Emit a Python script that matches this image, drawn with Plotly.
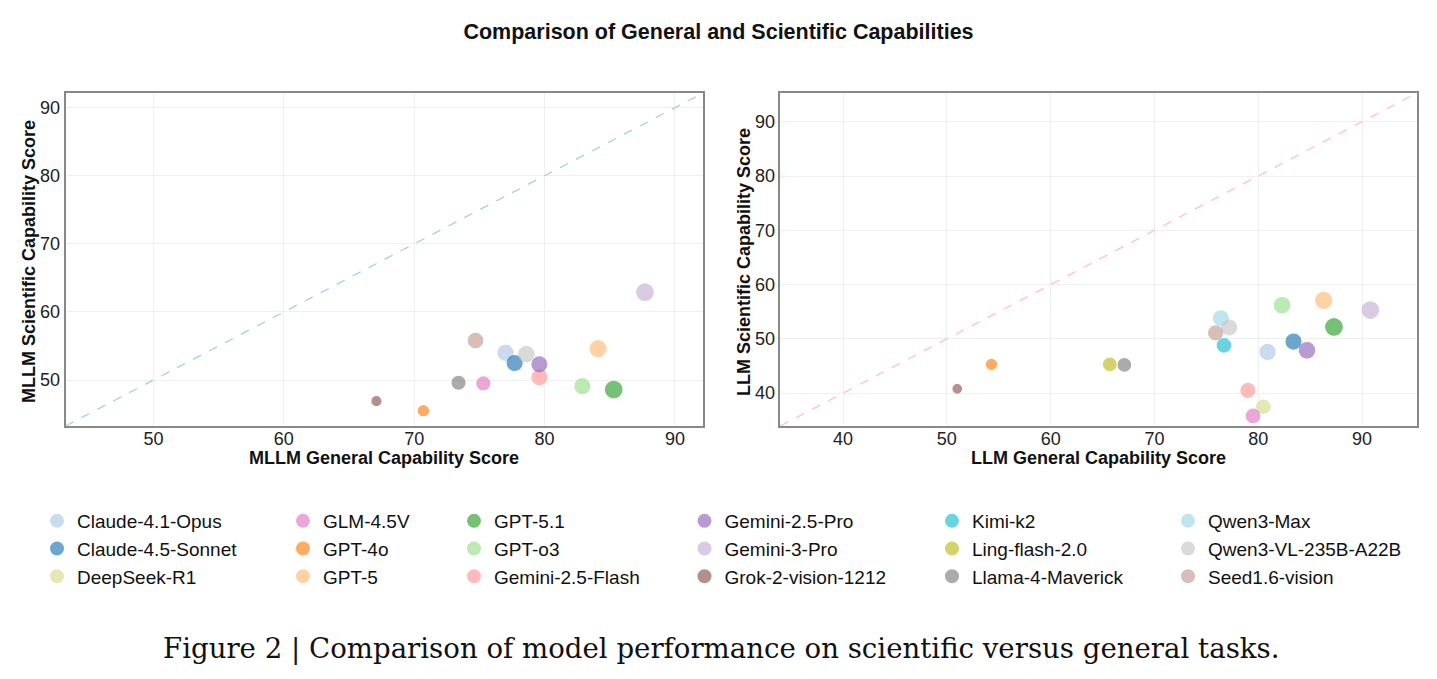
import plotly.graph_objects as go

# ---------------- data ----------------
models = ["Claude-4.1-Opus", "Claude-4.5-Sonnet", "DeepSeek-R1", "GLM-4.5V", "GPT-4o", "GPT-5",
          "GPT-5.1", "GPT-o3", "Gemini-2.5-Flash", "Gemini-2.5-Pro", "Gemini-3-Pro",
          "Grok-2-vision-1212", "Kimi-k2", "Ling-flash-2.0", "Llama-4-Maverick", "Qwen3-Max",
          "Qwen3-VL-235B-A22B", "Seed1.6-vision"]

# MLLM panel (None = not evaluated)
mllm_general = [77.0, 77.7, None, 75.3, 70.7, 84.1, 85.3, 82.9, 79.6, 79.6, 87.7,
                67.1, None, None, 73.4, None, 78.6, 74.7]
mllm_science = [54.0, 52.5, None, 49.5, 45.5, 54.6, 48.6, 49.1, 50.4, 52.3, 62.9,
                46.9, None, None, 49.6, None, 53.8, 55.8]
mllm_size = [15, 15, None, 13, 10, 16, 16.5, 15, 15, 15, 16.5, 9, None, None, 13, None, 15.5, 14.5]

# LLM panel
llm_general = [80.9, 83.4, 80.5, 79.5, 54.3, 86.3, 87.3, 82.3, 79.0, 84.7, 90.8,
               51.0, 76.7, 65.7, 67.1, 76.4, 77.2, 75.9]
llm_science = [47.6, 49.5, 37.5, 35.8, 45.3, 57.1, 52.2, 56.2, 40.5, 47.9, 55.3,
               40.8, 48.8, 45.3, 45.2, 53.8, 52.1, 51.1]
llm_size = [15, 15, 13.5, 13.5, 10, 16, 16.5, 15.5, 14, 15.5, 16.5, 8.5, 13.5, 12.5, 12.5, 15, 15, 14]

colors = ["#aec7e8", "#1f77b4", "#dbdb8d", "#e377c2", "#ff7f0e", "#ffbb78", "#2ca02c", "#98df8a",
          "#ff9896", "#9467bd", "#c5b0d5", "#8c564b", "#17becf", "#bcbd22", "#7f7f7f", "#9edae5",
          "#c7c7c7", "#c49c94"]

left_range = [43.25, 92.15]
right_range = [33.95, 95.3]

# ---------------- figure ----------------
fig = go.Figure()

FONT = "Liberation Sans, Arial, sans-serif"

# diagonal reference lines
fig.add_trace(go.Scatter(x=left_range, y=left_range, mode="lines", xaxis="x", yaxis="y",
                         line=dict(color="#9fd3ea", width=1.3, dash="dash"),
                         showlegend=False, hoverinfo="skip"))
fig.add_trace(go.Scatter(x=right_range, y=right_range, mode="lines", xaxis="x2", yaxis="y2",
                         line=dict(color="#ffbfcb", width=1.3, dash="dash"),
                         showlegend=False, hoverinfo="skip"))

legend_names = ["legend", "legend2", "legend3", "legend4", "legend5", "legend6"]

for i, m in enumerate(models):
    col = i // 3
    lg = legend_names[col]
    if mllm_general[i] is not None:
        fig.add_trace(go.Scatter(x=[mllm_general[i]], y=[mllm_science[i]], mode="markers",
                                 xaxis="x", yaxis="y", name=m, legendgroup=m, showlegend=False,
                                 marker=dict(size=mllm_size[i], color=colors[i], opacity=0.65,
                                             line=dict(color=colors[i], width=1.2))))
    fig.add_trace(go.Scatter(x=[llm_general[i]], y=[llm_science[i]], mode="markers",
                             xaxis="x2", yaxis="y2", name=m, legendgroup=m, showlegend=True,
                             legend=lg,
                             marker=dict(size=llm_size[i], color=colors[i], opacity=0.65,
                                         line=dict(color=colors[i], width=1.2))))

W, H = 1437, 679
y_top, y_bot = 93, 426
xl0, xl1 = 65.5, 703
xr0, xr1 = 780.3, 1417

axis_common = dict(showline=True, linecolor="#888888", linewidth=1.5, mirror=True,
                   showgrid=True, gridcolor="#efefef", gridwidth=1, zeroline=False,
                   ticks="", tickfont=dict(family=FONT, size=18, color="#222"), dtick=10)
xaxis_extra = dict(ticklabelstandoff=-4)

title_font = dict(family=FONT, size=18, color="#111")

legend_text_x = [77, 323, 494, 724.5, 972, 1208]
legends = {}
for k, name in enumerate(legend_names):
    legends[name] = dict(x=(legend_text_x[k] - 40) / W, xanchor="left", y=1 - 502 / H, yanchor="top",
                         orientation="v", bgcolor="rgba(0,0,0,0)", itemsizing="constant",
                         font=dict(family=FONT, size=19, color="#111"), tracegroupgap=0)

def ann(text, x, y, font, angle=0):
    return dict(text=text, x=x / W, y=1 - y / H, xref="paper", yref="paper",
                xanchor="center", yanchor="middle", showarrow=False, textangle=angle, font=font)

annotations = [
    ann("<b>MLLM General Capability Score</b>", (xl0 + xl1) / 2, 458, title_font),
    ann("<b>MLLM Scientific Capability Score</b>", 29, 262, title_font, -90),
    ann("<b>LLM General Capability Score</b>", (xr0 + xr1) / 2, 458, title_font),
    ann("<b>LLM Scientific Capability Score</b>", 744, 262, title_font, -90),
    ann("Figure 2 | Comparison of model performance on scientific versus general tasks.", 721, 648,
        dict(family="DejaVu Serif, serif", size=27.6, color="#111")),
]

fig.update_layout(
    width=W, height=H,
    margin=dict(l=0, r=0, t=0, b=0),
    paper_bgcolor="white", plot_bgcolor="white",
    xaxis=dict(domain=[xl0 / W, xl1 / W], anchor="y", range=left_range, **axis_common, **xaxis_extra),
    yaxis=dict(domain=[1 - y_bot / H, 1 - y_top / H], anchor="x", range=left_range, **axis_common),
    xaxis2=dict(domain=[xr0 / W, xr1 / W], anchor="y2", range=right_range, **axis_common, **xaxis_extra),
    yaxis2=dict(domain=[1 - y_bot / H, 1 - y_top / H], anchor="x2", range=right_range, **axis_common),
    title=dict(text="<b>Comparison of General and Scientific Capabilities</b>", x=0.5,
               xanchor="center", y=1 - 31 / H, yanchor="middle",
               font=dict(family=FONT, size=21.5, color="#111")),
    annotations=annotations,
    **legends,
)

fig.write_html("out.html")
